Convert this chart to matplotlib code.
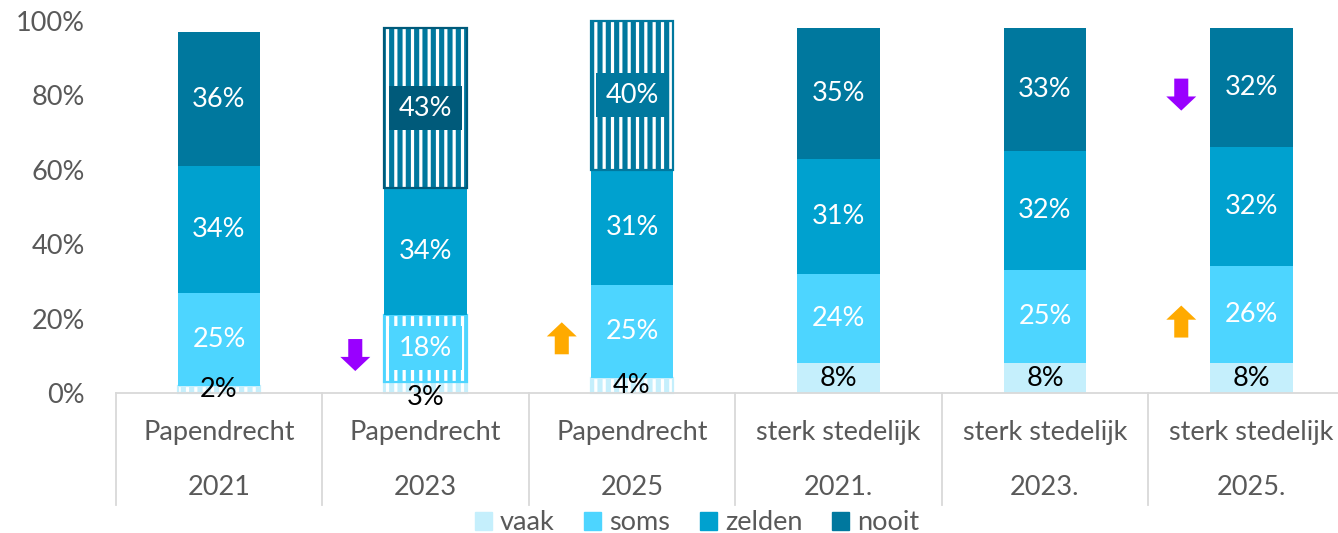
import numpy as np
import matplotlib
matplotlib.use('Agg')
import matplotlib.pyplot as plt
import matplotlib.patches as mpatches

# Data
groepen = ['Papendrecht', 'Papendrecht', 'Papendrecht',
           'sterk stedelijk', 'sterk stedelijk', 'sterk stedelijk']
jaren = ['2021', '2023', '2025', '2021.', '2023.', '2025.']
reeksen = ['vaak', 'soms', 'zelden', 'nooit']
vaak = [2, 3, 4, 8, 8, 8]
soms = [25, 18, 25, 24, 25, 26]
zelden = [34, 34, 31, 31, 32, 32]
nooit = [36, 43, 40, 35, 33, 32]

# gestreepte segmenten (kolomnummers per reeks)
gestreept = {'vaak': [0, 1, 2], 'soms': [1], 'zelden': [], 'nooit': [1, 2]}
# pijlen bij significante verschillen: (kolom, reeks, richting)
pijlen = [(1, 'soms', 'omlaag'), (2, 'soms', 'omhoog'),
          (5, 'soms', 'omhoog'), (5, 'nooit', 'omlaag')]

kleuren = {'vaak': '#C5EFFC', 'soms': '#4DD5FF', 'zelden': '#00A1CF', 'nooit': '#00789E'}
labelvak = {(1, 'soms'): '#4DD5FF', (1, 'nooit'): '#005A7A', (2, 'nooit'): '#00789E'}
grijs = '#595959'
lijn = '#D9D9D9'

plt.rcParams['font.family'] = ['Lato', 'DejaVu Sans']
plt.rcParams['hatch.linewidth'] = 2.3

fig = plt.figure(figsize=(13.38, 5.33), dpi=100)
ax = fig.add_axes([0.0865, 0.2627, 0.926, 0.698])

waarden = {'vaak': vaak, 'soms': soms, 'zelden': zelden, 'nooit': nooit}
x = np.arange(len(jaren))
breedte = 0.40
fs = 19.5
onder = np.zeros(len(jaren))

for r in reeksen:
    w = np.array(waarden[r], dtype=float)
    for i in x:
        if i in gestreept[r]:
            ax.bar(x[i], w[i], breedte, bottom=onder[i], color=kleuren[r],
                   hatch='||', edgecolor='white', linewidth=0, clip_on=False)
            ax.bar(x[i], w[i], breedte, bottom=onder[i], fill=False,
                   edgecolor=kleuren[r] if r != 'nooit' or i != 1 else '#005A7A',
                   linewidth=1.6, clip_on=False)
        else:
            ax.bar(x[i], w[i], breedte, bottom=onder[i], color=kleuren[r],
                   linewidth=0, clip_on=False)

        # labels
        ym = onder[i] + w[i] / 2
        if r == 'vaak' and i == 1:
            ym = -1.2
        kleur = 'black' if r == 'vaak' else 'white'
        bbox = None
        if (i, r) in labelvak:
            bbox = dict(boxstyle='square,pad=0.35', facecolor=labelvak[(i, r)],
                        edgecolor='none')
        ax.text(x[i], ym, f'{int(w[i])}%', ha='center', va='center',
                color=kleur, fontsize=fs, bbox=bbox, zorder=5)
    onder += w

# pijlen
for i, r, richting in pijlen:
    start = sum(waarden[s][i] for s in reeksen[:reeksen.index(r)])
    yc = start + waarden[r][i] / 2 - 1.8
    if richting == 'omlaag':
        pijl = mpatches.FancyArrow(i - 0.34, yc + 4.3, 0, -8.6, width=0.068,
                                   head_width=0.145, head_length=3.8,
                                   length_includes_head=True, color='#9900FF', lw=0)
    else:
        pijl = mpatches.FancyArrow(i - 0.34, yc - 4.3, 0, 8.6, width=0.068,
                                   head_width=0.145, head_length=3.8,
                                   length_includes_head=True, color='#FFAA00', lw=0)
    ax.add_patch(pijl)

ax.set_xlim(-0.5, 5.5)
ax.set_ylim(0, 100)
ax.set_yticks(np.arange(0, 101, 20))
ax.set_yticklabels([f'{t}%' for t in range(0, 101, 20)])
ax.tick_params(axis='y', length=0, pad=22, labelsize=fs, labelcolor=grijs)
ax.set_xticks([])
for s in ['top', 'right', 'left']:
    ax.spines[s].set_visible(False)
ax.spines['bottom'].set_color(lijn)
ax.spines['bottom'].set_linewidth(1.3)

# categorie-as met twee niveaus
trans = ax.get_xaxis_transform()
for b in np.arange(-0.5, 6, 1):
    ax.plot([b, b], [0, -0.30], transform=trans, color=lijn, lw=1.3, clip_on=False)
for i in x:
    ax.text(x[i], -0.105, groepen[i], transform=trans, ha='center', va='center',
            fontsize=fs, color=grijs)
    ax.text(x[i], -0.255, jaren[i], transform=trans, ha='center', va='center',
            fontsize=fs, color=grijs)

handles = [mpatches.Patch(color=kleuren[r], label=r) for r in reeksen]
fig.legend(handles=handles, loc='center', bbox_to_anchor=(0.521, 0.019), ncol=4,
           frameon=False, fontsize=fs, labelcolor=grijs, handlelength=0.62,
           handleheight=0.62, handletextpad=0.3, columnspacing=1.1,
           borderpad=0, borderaxespad=0)

plt.savefig('out.png', dpi=100)
